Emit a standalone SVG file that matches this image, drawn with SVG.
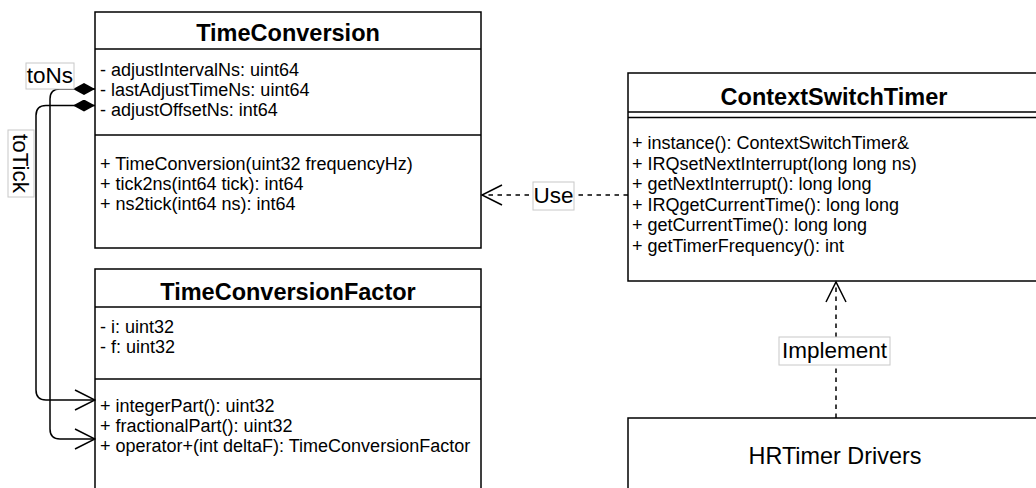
<svg xmlns="http://www.w3.org/2000/svg" width="1036" height="488" viewBox="0 0 1036 488">
  <style>
    .box { fill: #ffffff; stroke: #000000; stroke-width: 1.5; }
    .sep { stroke: #000000; stroke-width: 1.5; fill: none; }
    .title { font-family: "Liberation Sans", Arial, Helvetica, sans-serif; font-size: 23.5px; font-weight: bold; fill: #000000; text-anchor: middle; }
    .member { font-family: "Liberation Sans", Arial, Helvetica, sans-serif; font-size: 18px; fill: #000000; }
    .name { font-family: "Liberation Sans", Arial, Helvetica, sans-serif; font-size: 23.4px; fill: #000000; text-anchor: middle; }
    .edge { stroke: #000000; stroke-width: 1.5; fill: none; }
    .dashed { stroke-dasharray: 4.5 4.5; }
    .lblbox { fill: #ffffff; stroke: #c8c8c8; stroke-width: 1; }
    .lbl { font-family: "Liberation Sans", Arial, Helvetica, sans-serif; font-size: 22.5px; fill: #000000; text-anchor: middle; }
  </style>
  <defs>
    <marker id="diamond" viewBox="0 0 22 12" refX="22" refY="6" markerWidth="22" markerHeight="12" markerUnits="userSpaceOnUse" orient="auto-start-reverse">
      <path d="M0,6 L11,0 L22,6 L11,12 Z" fill="#000000"/>
    </marker>
    <marker id="open" viewBox="0 0 22 22" refX="21" refY="11" markerWidth="22" markerHeight="22" markerUnits="userSpaceOnUse" orient="auto">
      <path d="M1,1 L21,11 L1,21" fill="none" stroke="#000000" stroke-width="1.5"/>
    </marker>
  </defs>

  <rect width="1036" height="488" fill="#ffffff"/>

  <!-- class TimeConversion -->
  <g id="time-conversion">
    <rect class="box" x="95" y="12" width="386" height="236"/>
    <line class="sep" x1="95" y1="49" x2="481" y2="49"/>
    <line class="sep" x1="95" y1="135" x2="481" y2="135"/>
    <text class="title" x="288" y="41">TimeConversion</text>
    <text class="member" x="100" y="76">- adjustIntervalNs: uint64</text>
    <text class="member" x="100" y="96">- lastAdjustTimeNs: uint64</text>
    <text class="member" x="100" y="116">- adjustOffsetNs: int64</text>
    <text class="member" x="100" y="170">+ TimeConversion(uint32 frequencyHz)</text>
    <text class="member" x="100" y="190">+ tick2ns(int64 tick): int64</text>
    <text class="member" x="100" y="210">+ ns2tick(int64 ns): int64</text>
  </g>

  <!-- class TimeConversionFactor -->
  <g id="time-conversion-factor">
    <rect class="box" x="95" y="269" width="386" height="240"/>
    <line class="sep" x1="95" y1="307" x2="481" y2="307"/>
    <line class="sep" x1="95" y1="379" x2="481" y2="379"/>
    <text class="title" x="288" y="300">TimeConversionFactor</text>
    <text class="member" x="100" y="333">- i: uint32</text>
    <text class="member" x="100" y="353">- f: uint32</text>
    <text class="member" x="100" y="412">+ integerPart(): uint32</text>
    <text class="member" x="100" y="432">+ fractionalPart(): uint32</text>
    <text class="member" x="100" y="452">+ operator+(int deltaF): TimeConversionFactor</text>
  </g>

  <!-- class ContextSwitchTimer -->
  <g id="context-switch-timer">
    <rect class="box" x="628" y="73" width="412" height="208"/>
    <line class="sep" x1="628" y1="112" x2="1040" y2="112"/>
    <line class="sep" x1="628" y1="117.5" x2="1040" y2="117.5"/>
    <text class="title" x="834" y="105">ContextSwitchTimer</text>
    <text class="member" x="632" y="149">+ instance(): ContextSwitchTimer&amp;</text>
    <text class="member" x="632" y="169.5">+ IRQsetNextInterrupt(long long ns)</text>
    <text class="member" x="632" y="190">+ getNextInterrupt(): long long</text>
    <text class="member" x="632" y="210.5">+ IRQgetCurrentTime(): long long</text>
    <text class="member" x="632" y="231">+ getCurrentTime(): long long</text>
    <text class="member" x="632" y="251.5">+ getTimerFrequency(): int</text>
  </g>

  <!-- HRTimer drivers block -->
  <g id="hrtimer-drivers">
    <rect class="box" x="628" y="418" width="412" height="90"/>
    <text class="name" x="835" y="464">HRTimer Drivers</text>
  </g>

  <!-- connectors -->
  <g id="connectors">
    <!-- toNs: composition to fractionalPart side -->
    <path class="edge" d="M95,89 L60,89 Q50,89 50,99 L50,429 Q50,439 60,439 L95,439" marker-start="url(#diamond)" marker-end="url(#open)"/>
    <!-- toTick: composition to integerPart side -->
    <path class="edge" d="M95,105.5 L46,105.5 Q36,105.5 36,115.5 L36,390 Q36,400 46,400 L95,400" marker-start="url(#diamond)" marker-end="url(#open)"/>
    <!-- Use dependency -->
    <path class="edge dashed" d="M628,195 L482,195"/>
    <path class="edge" d="M502,185 L482,195 L502,205"/>
    <!-- Implement realization -->
    <path class="edge dashed" d="M836,418 L836,282"/>
    <path class="edge" d="M826,302 L836,282 L846,302"/>

    <!-- labels -->
    <g id="label-tons">
      <rect class="lblbox" x="26" y="63" width="48" height="26"/>
      <text class="lbl" x="50" y="83">toNs</text>
    </g>
    <g id="label-totick">
      <rect class="lblbox" x="8" y="130" width="26" height="67"/>
      <text class="lbl" transform="translate(21,163.5) rotate(90)" x="0" y="8">toTick</text>
    </g>
    <g id="label-use">
      <rect class="lblbox" x="533" y="182" width="41" height="28"/>
      <text class="lbl" x="553.5" y="203">Use</text>
    </g>
    <g id="label-implement">
      <rect class="lblbox" x="779" y="337" width="111" height="28"/>
      <text class="lbl" x="834.5" y="358">Implement</text>
    </g>
  </g>
</svg>
